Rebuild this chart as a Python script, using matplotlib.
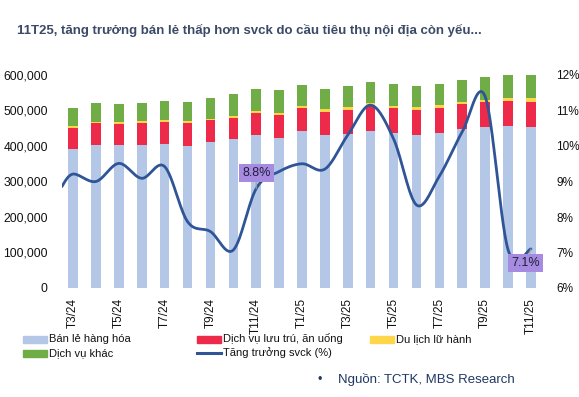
import numpy as np
import matplotlib
matplotlib.use("Agg")
import matplotlib.pyplot as plt
from matplotlib.patches import Rectangle
from matplotlib.lines import Line2D
from matplotlib.ticker import FuncFormatter, MultipleLocator

plt.rcParams['font.family'] = ['Liberation Sans', 'DejaVu Sans']

months = ['T3/24', 'T4/24', 'T5/24', 'T6/24', 'T7/24', 'T8/24', 'T9/24', 'T10/24',
          'T11/24', 'T12/24', 'T1/25', 'T2/25', 'T3/25', 'T4/25', 'T5/25', 'T6/25',
          'T7/25', 'T8/25', 'T9/25', 'T10/25', 'T11/25']
retail = [391500, 402000, 402000, 403000, 405000, 401000, 410000, 419000, 430000, 423500,
          441000, 432000, 434000, 442000, 435500, 432000, 435500, 447000, 453500, 455000, 454500]
accom = [59200, 62000, 61000, 61000, 62000, 63000, 62000, 61000, 64000, 64500,
         67000, 65000, 68000, 73500, 71500, 70000, 71500, 71000, 70500, 71000, 70500]
travel = [4300, 4500, 4600, 5500, 5000, 5500, 5000, 4500, 4600, 6000,
          4700, 6000, 7000, 5500, 5700, 7000, 7600, 7000, 6500, 8000, 9000]
other = [53000, 52500, 50400, 51500, 55000, 55500, 57000, 61000, 62000, 63700,
         60000, 57600, 61000, 59000, 61000, 60000, 61000, 61000, 64500, 66000, 66000]
growth_prev = 8.85  # value before first month (line enters from left edge)
growth = [9.21, 9.0, 9.51, 9.09, 9.42, 7.87, 7.59, 7.07, 8.8, 9.28, 9.5, 9.35,
          10.31, 11.15, 10.2, 8.34, 9.15, 10.4, 11.39, 7.08, 7.1]
tick_labels = ['T3/24', 'T5/24', 'T7/24', 'T9/24', 'T11/24', 'T1/25', 'T3/25',
               'T5/25', 'T7/25', 'T9/25', 'T11/25']
legend_names = ['Bán lẻ hàng hóa', 'Dịch vụ lưu trú, ăn uống', 'Du lịch lữ hành',
                'Dịch vụ khác', 'Tăng trưởng svck (%)']

C_BLUE = '#B4C7E7'
C_RED = '#EE2A4B'
C_YEL = '#FFD54A'
C_GRN = '#70AD47'
C_LINE = '#2F5597'
C_LABEL = '#A78BE0'

W, H = 579, 397
fig = plt.figure(figsize=(W / 100, H / 100), dpi=100)
ax = fig.add_axes([61.6 / W, 1 - 288 / H, 480.8 / W, 213 / H])
ax2 = ax.twinx()

x = np.arange(len(months))
bw = 0.42
r = np.array(retail); a = np.array(accom); t = np.array(travel); o = np.array(other)
ax.bar(x, r, bw, color=C_BLUE, zorder=2)
ax.bar(x, a, bw, bottom=r, color=C_RED, zorder=2)
ax.bar(x, t, bw, bottom=r + a, color=C_YEL, zorder=2)
ax.bar(x, o, bw, bottom=r + a + t, color=C_GRN, zorder=2)
ax.set_xlim(-0.5, len(months) - 0.5)
ax.set_ylim(0, 600000)
ax.yaxis.set_major_locator(MultipleLocator(100000))
ax.yaxis.set_major_formatter(FuncFormatter(lambda v, p: f"{int(v):,}"))

# smoothed line (Catmull-Rom, like Excel smoothing)
px = np.concatenate([[-0.5], x.astype(float)])
py = np.concatenate([[growth_prev], growth])
P = np.column_stack([px, py])
Pext = np.vstack([P[0], P, P[-1]])
curve = []
for i in range(1, len(Pext) - 2):
    p0, p1, p2, p3 = Pext[i - 1], Pext[i], Pext[i + 1], Pext[i + 2]
    c1 = p1 + (p2 - p0) / 6
    c2 = p2 - (p3 - p1) / 6
    tt = np.linspace(0, 1, 30)[:, None]
    seg = (1 - tt) ** 3 * p1 + 3 * (1 - tt) ** 2 * tt * c1 + 3 * (1 - tt) * tt ** 2 * c2 + tt ** 3 * p2
    curve.append(seg)
curve = np.vstack(curve)
ax2.plot(curve[:, 0], curve[:, 1], color=C_LINE, lw=2.0, zorder=5, solid_capstyle='round')
ax2.set_ylim(6, 12)
ax2.yaxis.set_major_locator(MultipleLocator(1))
ax2.yaxis.set_major_formatter(FuncFormatter(lambda v, p: f"{int(round(v))}%"))

# data labels
for idx, off in [(8, (0, 11.5)), (20, (-4, -10))]:
    ax2.annotate(f"{growth[idx]:.1f}%", xy=(idx, growth[idx]), xytext=off,
                 textcoords='offset points', ha='center', va='center',
                 fontsize=9, color='#1E1E3C',
                 bbox=dict(boxstyle='square,pad=0.25', fc=C_LABEL, ec='none'),
                 arrowprops=dict(arrowstyle='-', color='#A0A0A0', lw=0.8,
                                 shrinkA=0, shrinkB=0),
                 zorder=6)

for a_ in (ax, ax2):
    for s in a_.spines.values():
        s.set_visible(False)
    a_.tick_params(length=0, colors='#111111')
ax.tick_params(axis='y', labelsize=8.7, pad=10)
ax2.tick_params(axis='y', labelsize=8.5, pad=10)
tick_pos = [months.index(m) for m in tick_labels]
ax.set_xticks(tick_pos)
ax.set_xticklabels(tick_labels, rotation=90, fontsize=8.5, va='top', ha='center')
ax.tick_params(axis='x', pad=7)

# title
fig.text(17 / W, 1 - 30 / H, '11T25, tăng trưởng bán lẻ thấp hơn svck do cầu tiêu thụ nội địa còn yếu...',
         fontsize=9.5, fontweight='bold', color='#3B4A66', va='center', ha='left')

# manual legend
items = [(23, 339, C_BLUE, 'patch', legend_names[0]),
         (197, 339, C_RED, 'patch', legend_names[1]),
         (370, 339, C_YEL, 'patch', legend_names[2]),
         (23, 353, C_GRN, 'patch', legend_names[3]),
         (197, 353, C_LINE, 'line', legend_names[4])]
for lx, ly, col, kind, lab in items:
    if kind == 'patch':
        fig.patches.append(Rectangle((lx / W, 1 - (ly + 3.5) / H), 24 / W, 7 / H,
                                     transform=fig.transFigure, color=col))
    else:
        fig.lines.append(Line2D([lx / W, (lx + 24) / W], [1 - ly / H, 1 - ly / H],
                                transform=fig.transFigure, color=col, lw=2.2))
    fig.text((lx + 26) / W, 1 - ly / H, lab, fontsize=8, color='#111111',
             va='center', ha='left')

fig.text(318 / W, 1 - 380 / H, '•', fontsize=9, color='#1F3864', va='center', ha='left')
fig.text(338 / W, 1 - 380 / H, 'Nguồn: TCTK, MBS Research', fontsize=9.5,
         color='#1F3864', va='center', ha='left')

fig.savefig('out.png', dpi=100)
